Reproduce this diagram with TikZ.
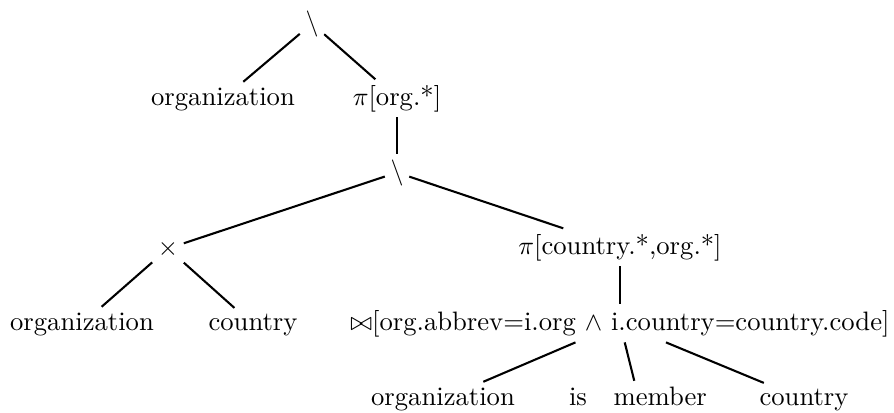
\documentclass[tikz,border=0pt]{standalone}
\begin{document}
\begin{tikzpicture}[x=0.01352cm, y=-0.01352cm, term/.style={anchor=base, inner sep=2pt, font=\fontsize{10.25}{12.3}\selectfont}]
			\useasboundingbox (0,0) rectangle (894,412);
			\node[term] (t0) at (312, 30)  {$\backslash$};
			\node[term] (t1) at (223, 105)  {organization};
			\node[term] (t2) at (397, 105)  {$\pi$[org.*]};
			\node[term] (t3) at (397, 179)  {$\backslash$};
			\node[term] (t4) at (168, 255)  {$\times$};
			\node[term] (t5) at (620, 254)  {$\pi$[country.*,org.*]};
			\node[term] (t6) at (82, 330)  {organization};
			\node[term] (t7) at (253, 330)  {country};
			\node[term] (t8) at (620, 330)  {$\bowtie$[org.abbrev=i.org $\wedge$ i.country=country.code]};
			\node[term] (t9) at (443, 405)  {organization};
			\node[term] (t10) at (638, 405)  {is\quad member};
			\node[term] (t11) at (804, 405)  {country};
			
			\def\edges {t0/t1, t0/t2, t2/t3, t3/t4, t3/t5, t4/t6, t4/t7, t5/t8, t8/t9, t8/t10, t8/t11}  % tree edges
			\foreach \u\v in \edges
			{	\draw[thick] (\u) -- (\v);}
		\end{tikzpicture}
\end{document}
